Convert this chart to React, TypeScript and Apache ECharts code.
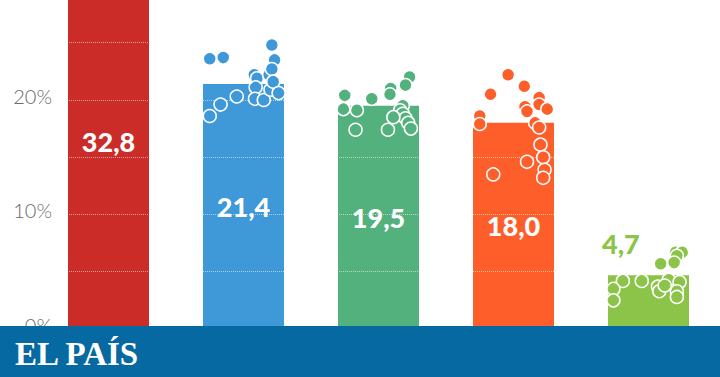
import React, { useEffect, useRef } from "react";
import * as echarts from "echarts";

const parties = ["A", "B", "C", "D", "E"];
const results = [32.8, 21.4, 19.5, 18.0, 4.7];
const barColors = ["#cb2c27", "#3f98d8", "#53b17d", "#fd5e2a", "#8bc448"];
const yTicks = [0, 10, 20];

// poll dots: [horizontal offset within bar (category units), value %]
const pollsB = [
  [-0.25, 23.6], [-0.15, 23.7], [-0.25, 18.6], [-0.17, 19.6], [-0.05, 20.3],
  [0.08, 22.2], [0.1, 21.9], [0.09, 21.1], [0.085, 20.1], [0.15, 20.0],
  [0.19, 22.2], [0.2, 20.9], [0.21, 24.8], [0.23, 23.5], [0.21, 22.7],
  [0.22, 21.6], [0.26, 20.6],
];
const pollsC = [
  [-0.25, 20.4], [-0.05, 20.1], [-0.26, 19.2], [-0.16, 19.1], [-0.17, 17.4],
  [0.23, 22.0], [0.2, 21.3], [0.09, 21.0], [0.085, 20.5], [0.18, 19.5],
  [0.16, 19.1], [0.18, 18.8], [0.2, 18.4], [0.22, 18.0], [0.24, 17.5],
  [0.11, 18.5], [0.07, 17.4],
];
const pollsD = [
  [-0.04, 22.2], [-0.17, 20.5], [-0.25, 18.6], [-0.25, 17.9], [-0.15, 13.5],
  [0.08, 21.2], [0.19, 20.2], [0.19, 19.6], [0.25, 19.2], [0.085, 19.4],
  [0.1, 19.0], [0.16, 18.0], [0.19, 17.6], [0.2, 16.1], [0.22, 15.0],
  [0.1, 14.6], [0.23, 13.9], [0.22, 13.2],
];
const pollsE = [
  [0.2, 6.7], [0.25, 6.7], [0.21, 6.4], [0.09, 5.7], [0.19, 5.8],
  [-0.19, 4.2], [-0.05, 4.2], [0.15, 4.3], [0.23, 4.1], [-0.26, 3.5],
  [-0.26, 2.5], [0.07, 3.7], [0.08, 3.3], [0.12, 3.8], [0.21, 3.3], [0.21, 2.8],
];
const pollsByParty = [[], pollsB, pollsC, pollsD, pollsE];
const gridLevels = [5, 10, 15, 20, 25];

export default function App() {
  const ref = useRef<HTMLDivElement>(null);
  useEffect(() => {
    if (!ref.current) return;
    const chart = echarts.init(ref.current, null, { renderer: "svg" });
    const fmt = (v: number) => v.toFixed(1).replace(".", ",");
    const barData = results.map((v, i) => {
      const item: any = { value: v, itemStyle: { color: barColors[i] } };
      if (i === 4) {
        item.label = {
          position: [-6, -45],
          color: barColors[i],
        };
      }
      return item;
    });
    const scatterSeries = pollsByParty.map((pts, i) => ({
      type: "scatter",
      xAxisIndex: 1,
      yAxisIndex: 0,
      z: 10,
      silent: true,
      symbolSize: 13,
      itemStyle: { color: barColors[i], borderColor: "#ffffff", borderWidth: 1.5, opacity: 1 },
      data: pts.map((p) => [i + p[0], p[1]]),
    }));
    chart.setOption({
      animation: false,
      grid: { left: 41, right: 4, top: 0, bottom: 48 },
      xAxis: [
        { type: "category", data: parties, show: false },
        { type: "value", min: -0.5, max: 4.5, show: false },
      ],
      yAxis: {
        type: "value",
        min: 0,
        max: 28.73,
        interval: 10,
        axisLine: { show: false },
        axisTick: { show: false },
        splitLine: { show: false },
        axisLabel: {
          showMaxLabel: false,
          margin: -11,
          verticalAlign: "bottom",
          lineHeight: 8,
          color: "#6a6a6a",
          fontSize: 20,
          fontFamily: "Lato",
          fontWeight: 300,
          formatter: (v: number) => (yTicks.includes(v) ? v + "%" : ""),
        },
      },
      series: [
        {
          type: "bar",
          data: barData,
          barWidth: "60%",
          clip: false,
          silent: true,
          label: {
            show: true,
            position: "inside",
            color: "#ffffff",
            fontFamily: "Lato",
            fontWeight: 900,
            fontSize: 27,
            formatter: (p: any) => fmt(p.value),
          },
          markLine: {
            silent: true,
            symbol: "none",
            label: { show: false },
            lineStyle: { color: "rgba(255,255,255,0.55)", type: "dotted", width: 1 },
            data: gridLevels.map((g) => ({ yAxis: g })),
          },
        },
        ...scatterSeries,
      ],
      graphic: [
        {
          type: "rect",
          left: 0,
          top: 326,
          z: 100,
          shape: { width: 720, height: 51 },
          style: { fill: "#0769a1" },
        },
        {
          type: "text",
          left: 15,
          top: 337,
          z: 101,
          style: {
            text: "EL PAÍS",
            fill: "#ffffff",
            font: "bold 33px 'Liberation Serif'",
          },
        },
      ],
    });
    return () => chart.dispose();
  }, []);
  return (
    <div
      ref={ref}
      style={{ position: "fixed", left: 0, top: 0, width: 720, height: 377, background: "#ffffff" }}
    />
  );
}
